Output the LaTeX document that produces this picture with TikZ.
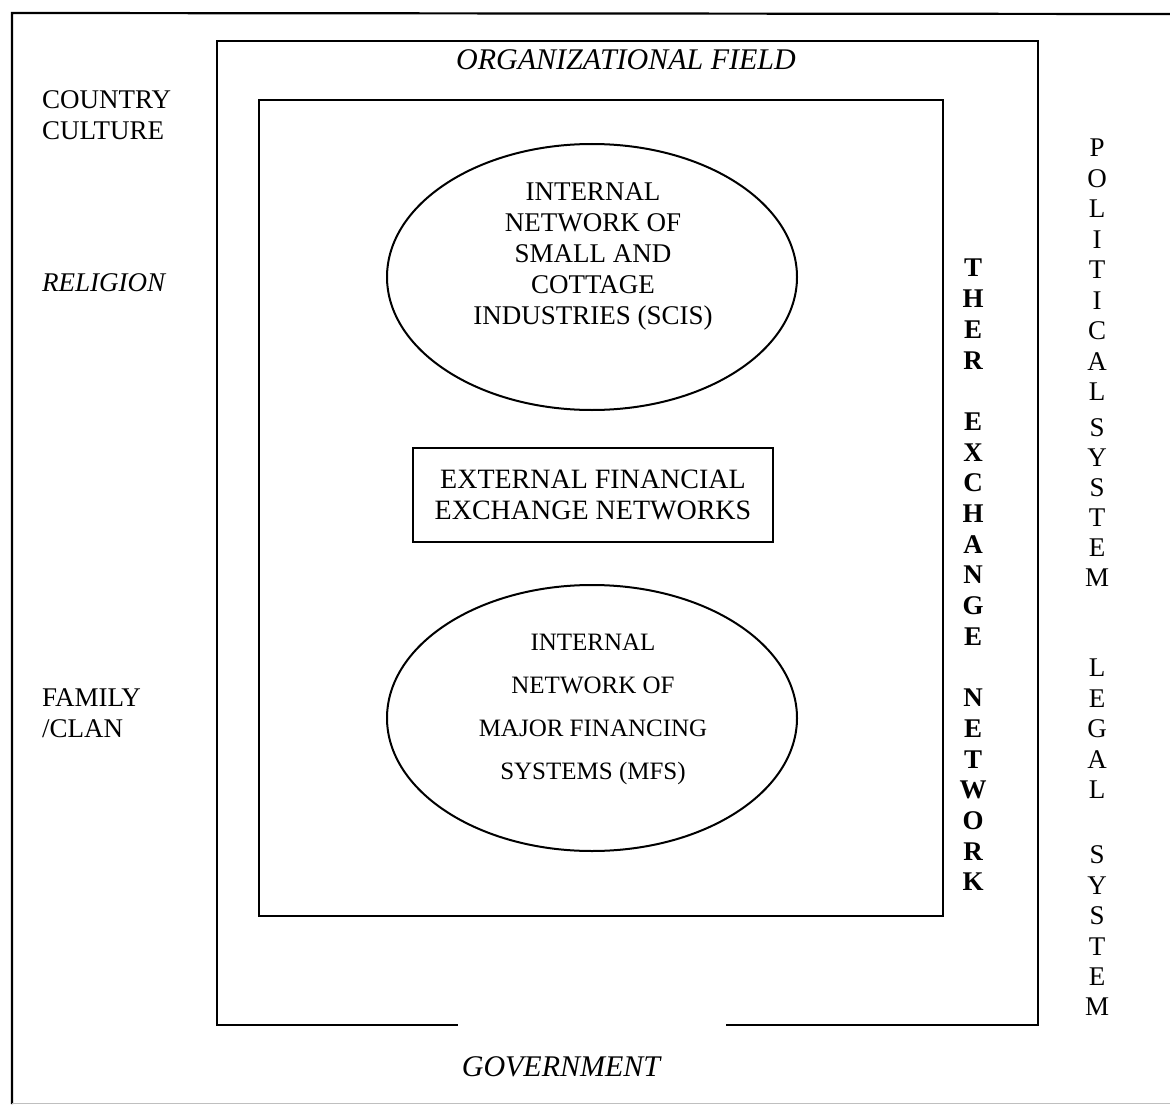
\documentclass[tikz,border=0pt]{standalone}
\usepackage{fontspec}
\setmainfont{Liberation Serif}
\usetikzlibrary{shapes.geometric}
\begin{document}
\begin{tikzpicture}[x=1pt,y=-1pt,
  frame/.style={line width=2.2pt,line cap=rect},
  txt/.style={inner sep=0pt,anchor=base,font=\fontsize{27}{31}\selectfont},
  txtw/.style={txt,anchor=base west},
  itl/.style={inner sep=0pt,anchor=base,font=\fontsize{30}{34}\selectfont\itshape},
  itlw/.style={inner sep=0pt,anchor=base west,font=\fontsize{27}{31}\selectfont\itshape},
  small/.style={inner sep=0pt,anchor=base,font=\fontsize{25}{29}\selectfont},
  vbold/.style={inner sep=0pt,anchor=base,font=\fontsize{27}{31}\selectfont\bfseries},
  vreg/.style={inner sep=0pt,anchor=base,font=\fontsize{27}{31}\selectfont},
  oval/.style={draw,ellipse,line width=2pt,inner sep=0pt,minimum width=410pt,minimum height=266pt},
  boxed/.style={draw,line width=1.9pt,minimum width=360pt,minimum height=94pt,inner sep=0pt,
    align=center,font=\fontsize{28}{31}\selectfont}
]
\useasboundingbox (0,0) rectangle (1170,1105);

% outer border
\coordinate (bl) at (12,1103);
\coordinate (tl) at (12,13);
\coordinate (tr) at (1170,14);
\coordinate (br) at (1170,1103);
\draw[frame] (bl) -- (tl) -- (tr);
\draw[black!25,line width=1pt] (bl) -- (br);

% organizational field, open at the bottom
\coordinate (ofgapL) at (457,1025);
\coordinate (ofgapR) at (727,1025);
\draw[frame] (ofgapL) -- (217,1025) -- (217,41) -- (1038,41) -- (1038,1025) -- (ofgapR);

% inner exchange network frame
\draw[frame] (259,100) rectangle (943,916);

% the two internal networks and the external exchange box
\node[oval] (scis) at (592,277) {};
\node[oval] (mfs) at (592,718) {};
\node[boxed] (efen) at (593,495) {EXTERNAL FINANCIAL\\EXCHANGE NETWORKS};

% text inside the SCIS ellipse
\node[txt] (s1) at (593,200.9) {INTERNAL};
\node[txt] (s2) at (593,231.9) {NETWORK OF};
\node[txt] (s3) at (593,262.9) {SMALL AND};
\node[txt] (s4) at (593,293.9) {COTTAGE};
\node[txt] (s5) at (593,324.9) {INDUSTRIES (SCIS)};

% text inside the MFS ellipse
\node[small] (m1) at (593,650.3) {INTERNAL};
\node[small] (m2) at (593,693.3) {NETWORK OF};
\node[small] (m3) at (593,736.3) {MAJOR FINANCING};
\node[small] (m4) at (593,779.3) {SYSTEMS (MFS)};

% headings
\node[itl] (field) at (626,70) {ORGANIZATIONAL FIELD};
\node[itl] (gov) at (561,1076) {GOVERNMENT};

% left side labels
\node[txtw] (cc1) at (42,109) {COUNTRY};
\node[txtw] (cc2) at (42,140) {CULTURE};
\node[itlw] (rel) at (42,291) {RELIGION};
\node[txtw] (fc1) at (42,706) {FAMILY};
\node[txtw] (fc2) at (42,737) {/CLAN};

% vertical label: THER EXCHANGE NETWORK
\foreach \ch/\k in {T/0,H/1,E/2,R/3,E/5,X/6,C/7,H/8,A/9,N/10,G/11,E/12,N/14,E/15,T/16,W/17,O/18,R/19,K/20}
  \node[vbold] (xn\k) at (973,{268+30.7*\k+8.9}) {\ch};

% vertical labels: POLITICAL SYSTEM, LEGAL SYSTEM
\foreach \ch/\k in {P/0,O/1,L/2,I/3,T/4,I/5,C/6,A/7,L/8}
  \node[vreg] (pol\k) at (1097,{148+30.5*\k+8.9}) {\ch};
\foreach \ch/\k in {S/0,Y/1,S/2,T/3,E/4,M/5}
  \node[vreg] (psy\k) at (1097,{428+30*\k+8.9}) {\ch};
\foreach \ch/\k in {L/0,E/1,G/2,A/3,L/4}
  \node[vreg] (leg\k) at (1097,{668+30.5*\k+8.9}) {\ch};
\foreach \ch/\k in {S/0,Y/1,S/2,T/3,E/4,M/5}
  \node[vreg] (lsy\k) at (1097,{855+30.4*\k+8.9}) {\ch};
\end{tikzpicture}
\end{document}
